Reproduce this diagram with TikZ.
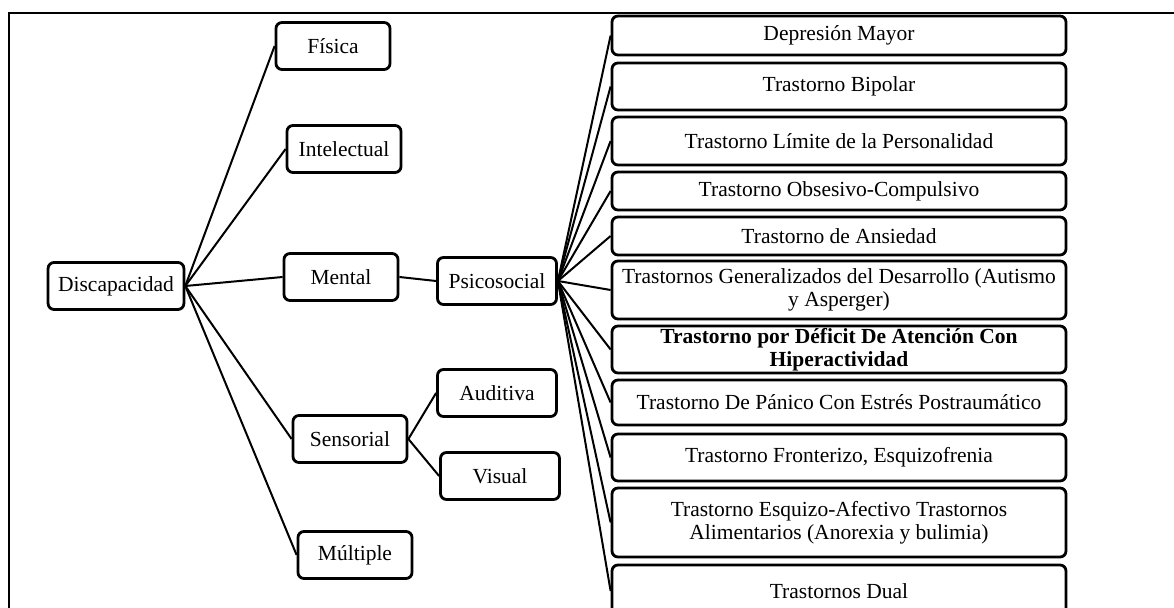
\documentclass[tikz,border=0pt]{standalone}
\usepackage{fontspec}
\setmainfont{Liberation Serif}
\usepackage{tikz}

\begin{document}
\begin{tikzpicture}[x=0.5pt,y=-0.5pt]
	\tikzstyle{caja}=[draw=black,line width=1.4pt,rounded corners=3pt,align=center,inner xsep=5pt,inner ysep=0pt,font=\fontsize{10.75}{11.5}\selectfont,minimum height=23.5pt]
	\tikzstyle{izq}=[caja,minimum width=57pt]
	\tikzstyle{der}=[caja,minimum width=227pt]
	\tikzstyle{linea}=[line width=1pt]
	\useasboundingbox (0,0) rectangle (1174,608);
	\draw[line width=0.75pt] (1174,13) -- (9,13) -- (9,608);
	% primer nivel
	\node[caja](dis) at (116,286) {Discapacidad};
	\node[izq](fis) at (333,46) {Física};
	\node[izq](int) at (344,149) {Intelectual};
	\node[izq](men) at (341,277) {Mental};
	\node[izq](sen) at (350,439) {Sensorial};
	\node[izq](mul) at (355,555) {Múltiple};
	% segundo nivel
	\node[izq,minimum width=59.5pt](psi) at (497,281) {Psicosocial};
	\node[izq,minimum width=59.5pt](aud) at (497,393) {Auditiva};
	\node[izq,minimum width=59.5pt](vis) at (500,476) {Visual};
	% trastornos
	\node[der,minimum height=19.5pt](t1) at (839,35.5) {Depresión Mayor};
	\node[der,minimum height=23.5pt](t2) at (839,86.5) {Trastorno Bipolar};
	\node[der,minimum height=24pt](t3) at (839,141) {Trastorno Límite de la Personalidad};
	\node[der,minimum height=19pt](t4) at (839,191) {Trastorno Obsesivo-Compulsivo};
	\node[der,minimum height=19pt](t5) at (839,236) {Trastorno de Ansiedad};
	\node[der,minimum height=29pt](t6) at (839,290) {Trastornos Generalizados del Desarrollo (Autismo\\y Asperger)};
	\node[der,minimum height=23.5pt,font=\fontsize{10.75}{11.5}\selectfont\bfseries](t7) at (839,349.5) {Trastorno por Déficit De Atención Con\\Hiperactividad};
	\node[der,minimum height=22.5pt](t8) at (839,402.5) {Trastorno De Pánico Con Estrés Postraumático};
	\node[der,minimum height=23.5pt](t9) at (839,457.5) {Trastorno Fronterizo, Esquizofrenia};
	\node[der,minimum height=34.5pt](t10) at (839,522.5) {Trastorno Esquizo-Afectivo Trastornos\\Alimentarios (Anorexia y bulimia)};
	\node[der,minimum height=26pt](t11) at (839,591) {Trastornos Dual};
	% conectores
	\foreach \n in {fis,int,men,sen,mul}
		\draw[linea](dis.east) -- (\n.west);
	\draw[linea](men.east) -- (psi.west);
	\draw[linea](sen.east) -- (aud.west);
	\draw[linea](sen.east) -- (vis.west);
	\foreach \n in {t1,t2,t3,t4,t5,t6,t7,t8,t9,t10,t11}
		\draw[linea](psi.east) -- (\n.west);
\end{tikzpicture}
\end{document}
